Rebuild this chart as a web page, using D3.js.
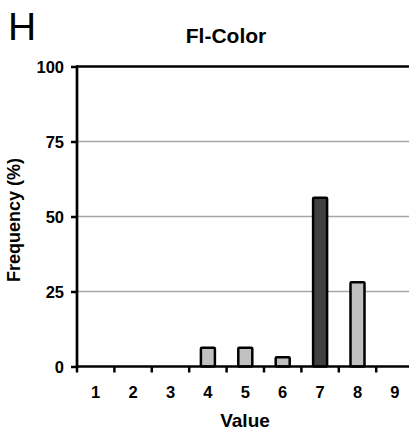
<!DOCTYPE html>
<html>
<head>
<meta charset="utf-8">
<style>
    body { margin: 0; background: white; }
    svg { display: block; font-family: 'Liberation Sans', Arial, sans-serif; }
</style>
</head>
<body>
<svg width="409" height="433"></svg>
<script src="https://d3js.org/d3.v7.min.js"></script>
<script>
    // data
    let categories = [1, 2, 3, 4, 5, 6, 7, 8, 9]
    let frequency = [0, 0, 0, 6.25, 6.25, 3.1, 56.25, 28.1, 0]
    let highlight = [false, false, false, false, false, false, true, false, false]
    let yTicks = [0, 25, 50, 75, 100]

    let svg = d3.select("svg")

    let plotLeft = 77, plotRight = 413.6, plotTop = 66.5, plotBottom = 366.5

    let x = d3.scaleBand()
        .domain(categories)
        .range([plotLeft, plotRight])
        .paddingInner(0.626)
        .paddingOuter(0.313)

    let y = d3.scaleLinear()
        .domain([0, 100])
        .range([plotBottom, plotTop])

    // gridlines
    svg.selectAll(".grid")
        .data(yTicks.filter(d => d > 0 && d < 100))
        .join("line")
        .attr("x1", plotLeft).attr("x2", plotRight)
        .attr("y1", d => y(d)).attr("y2", d => y(d))
        .style("stroke", "#a6a6a6")
        .style("stroke-width", 1.4)

    // top border
    svg.append("line")
        .attr("x1", plotLeft).attr("x2", plotRight)
        .attr("y1", y(100)).attr("y2", y(100))
        .style("stroke", "black")
        .style("stroke-width", 2.7)

    // bars
    let rows = categories.map((c, i) => ({ c: c, v: frequency[i], hi: highlight[i] }))
    svg.selectAll(".bar")
        .data(rows.filter(d => d.v > 0))
        .join("rect")
        .attr("x", d => x(d.c) + x.bandwidth() / 2 - 7)
        .attr("width", 14)
        .attr("y", d => y(d.v))
        .attr("height", d => y(0) - y(d.v))
        .attr("rx", 1)
        .style("fill", d => d.hi ? "#404040" : "#c0c0c0")
        .style("stroke", "black")
        .style("stroke-width", 2.5)
        .style("stroke-linejoin", "round")

    // y axis
    let yAxis = svg.append("g")
        .attr("transform", `translate(${plotLeft},0)`)
        .call(d3.axisLeft(y).tickValues(yTicks).tickSize(6).tickPadding(7))
    yAxis.select(".domain").remove()
    yAxis.selectAll(".tick line").style("stroke", "black").style("stroke-width", 2.5)
    yAxis.selectAll(".tick text")
        .style("font-size", "16.5px")
        .style("font-weight", "bold")
        .style("fill", "black")
        .attr("dy", "0.36em")
    svg.append("line")
        .attr("x1", plotLeft).attr("x2", plotLeft)
        .attr("y1", plotTop - 1.3).attr("y2", plotBottom + 1.3)
        .style("stroke", "black")
        .style("stroke-width", 2.7)

    // x axis: ticks sit between categories
    let step = x.step()
    let boundaries = d3.range(0, categories.length + 1).map(i => plotLeft + i * step)
    svg.selectAll(".xtick")
        .data(boundaries)
        .join("line")
        .attr("x1", d => d).attr("x2", d => d)
        .attr("y1", plotBottom).attr("y2", plotBottom + 6)
        .style("stroke", "black")
        .style("stroke-width", 2.5)
    svg.append("line")
        .attr("x1", plotLeft - 1.3).attr("x2", plotRight)
        .attr("y1", plotBottom).attr("y2", plotBottom)
        .style("stroke", "black")
        .style("stroke-width", 2.7)
    svg.selectAll(".xlabel")
        .data(categories)
        .join("text")
        .attr("x", d => x(d) + x.bandwidth() / 2)
        .attr("y", 398)
        .attr("text-anchor", "middle")
        .style("font-size", "16.5px")
        .style("font-weight", "bold")
        .text(d => d)

    // titles
    svg.append("text")
        .attr("x", 226).attr("y", 43)
        .attr("text-anchor", "middle")
        .style("font-size", "21px")
        .style("font-weight", "bold")
        .text("Fl-Color")

    svg.append("text")
        .attr("x", 245).attr("y", 427)
        .attr("text-anchor", "middle")
        .style("font-size", "19px")
        .style("font-weight", "bold")
        .text("Value")

    svg.append("text")
        .attr("transform", "translate(20,220) rotate(-90)")
        .attr("text-anchor", "middle")
        .style("font-size", "18px")
        .style("font-weight", "bold")
        .text("Frequency (%)")

    svg.append("text")
        .attr("x", 8).attr("y", 40)
        .style("font-size", "39px")
        .text("H")
</script>
</body>
</html>
